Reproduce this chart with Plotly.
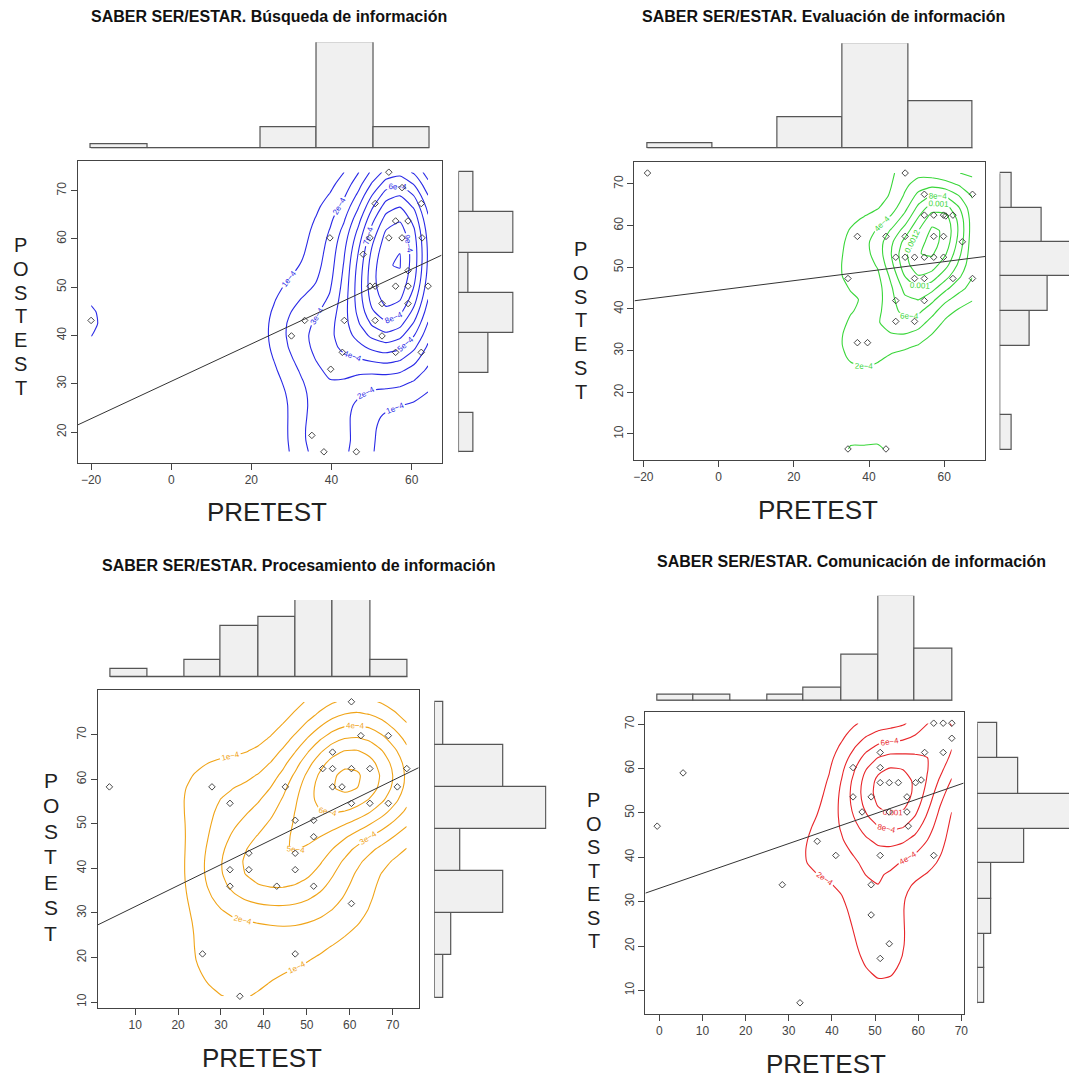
import numpy as np
import plotly.graph_objects as go

# page is 1077x1079; the html body has an 8px margin, so page pixel p maps to figure pixel p-8
W, H = 1077, 1079
OFF = 8
FW, FH = W - OFF, H - OFF

# ---------------- data ----------------
titles = [
    "SABER SER/ESTAR. Búsqueda de información",
    "SABER SER/ESTAR. Evaluación de información",
    "SABER SER/ESTAR. Procesamiento de información",
    "SABER SER/ESTAR. Comunicación de información",
]
contour_colors = ["#2a2ae6", "#3ad63a", "#f0a418", "#e8262a"]
contour_steps = [1e-4, 2e-4, 1e-4, 2e-4]

busq_pre = [-20, 54.3, 57.6, 50.9, 62.4, 56.0, 59.1, 39.6, 49.6, 54.3, 57.6, 62.6, 47.9,
            59.1, 49.6, 50.9, 56.0, 59.1, 64.1, 52.6, 59.1, 33.3, 43.2, 50.9, 30.0, 52.6,
            42.7, 56.0, 62.4, 39.8, 35.1, 38.1, 46.2]
busq_post = [43.1, 73.8, 70.6, 67.3, 67.3, 63.7, 63.7, 60.2, 60.2, 60.2, 60.2, 60.2, 56.8,
             53.4, 50.2, 50.2, 50.2, 50.2, 50.2, 46.6, 46.6, 43.1, 43.1, 43.1, 39.9, 39.9,
             36.5, 36.5, 36.5, 33.0, 19.3, 15.9, 15.9]

eval_pre = [-18.9, 49.6, 67.5, 54.7, 54.7, 57.2, 59.8, 60.4, 62.3, 36.9, 44.5, 49.6, 57.2,
            59.8, 64.8, 47.1, 49.6, 52.1, 54.7, 57.2, 59.8, 34.4, 52.1, 54.7, 62.3, 67.5,
            47.1, 54.7, 47.1, 52.1, 36.9, 39.6, 34.4, 44.5]
eval_post = [72.6, 72.6, 67.5, 67.5, 62.5, 62.5, 62.5, 62.3, 62.5, 57.4, 57.4, 57.4, 57.4,
             57.4, 56.1, 52.4, 52.4, 52.4, 52.4, 52.4, 52.4, 47.3, 47.3, 47.3, 47.3, 47.3,
             42.0, 42.0, 37.0, 37.0, 31.9, 31.9, 6.4, 6.4]

proc_pre = [4.0, 60.4, 62.6, 69.0, 56.0, 53.7, 56.0, 60.4, 64.7, 73.3, 27.9, 45.0, 56.0,
            58.2, 71.1, 32.1, 60.4, 64.7, 69.0, 47.3, 51.6, 51.6, 36.5, 47.3, 32.1, 36.5,
            47.3, 32.1, 43.0, 51.6, 60.4, 25.7, 47.3, 34.4]
proc_post = [58.3, 77.4, 69.8, 69.8, 66.1, 62.4, 62.4, 62.4, 62.4, 62.4, 58.3, 58.3, 58.3,
             58.3, 58.3, 54.6, 54.6, 54.6, 54.6, 50.8, 50.8, 47.1, 43.4, 43.4, 39.7, 39.7,
             39.7, 36.0, 36.0, 36.0, 32.1, 20.8, 20.8, 11.3]

comu_pre = [-0.5, 5.5, 28.5, 32.6, 36.6, 40.9, 44.9, 44.9, 47.0, 49.1, 49.1, 49.1, 51.2,
            51.2, 51.2, 53.3, 55.4, 53.3, 51.2, 51.2, 53.3, 57.4, 57.4, 57.7, 59.4, 60.7,
            61.5, 63.6, 65.8, 63.6, 65.8, 67.8, 67.8]
comu_post = [47.0, 59.0, 33.8, 7.2, 43.6, 40.4, 60.2, 53.6, 50.2, 53.6, 33.8, 27.0, 63.6,
             60.2, 56.8, 56.8, 56.8, 50.2, 40.4, 17.2, 20.5, 53.6, 50.2, 47.0, 56.8, 57.4,
             63.6, 40.4, 63.6, 70.2, 70.2, 70.2, 66.8]

# regression lines (intercept, slope)
fit_intercept = [30.5, 44.5, 26.7, 33.0]
fit_slope = [0.387, 0.114, 0.472, 0.336]

# marginal histograms: bin edges (axis units) and counts
top_edges = [
    [-20, -5.9, 8.1, 22.2, 36.3, 50.4, 64.4],
    [-18.9, -1.7, 15.7, 33.0, 50.4, 67.6],
    [4.2, 12.8, 21.4, 30.0, 38.7, 47.4, 56.1, 64.8, 73.5],
    [-0.4, 8.0, 16.5, 25.0, 33.5, 42.2, 50.7, 59.2, 67.9],
]
top_counts = [
    [1, 0, 0, 5, 25, 5],
    [1, 0, 6, 20, 9],
    [1, 0, 2, 6, 7, 9, 9, 2],
    [1, 1, 0, 1, 2, 7, 16, 8],
]
right_edges = [
    [15.8, 24.0, 32.3, 40.6, 48.8, 57.1, 65.6, 73.9],
    [6.2, 14.6, 22.9, 31.2, 39.5, 47.8, 56.0, 64.3, 72.5],
    [11.0, 20.5, 29.9, 39.5, 48.9, 58.3, 67.8, 77.3],
    [7.1, 15.0, 22.8, 30.7, 38.6, 46.4, 54.3, 62.3, 70.2],
]
right_counts = [
    [3, 0, 6, 11, 2, 11, 3],
    [2, 0, 0, 5, 8, 12, 7, 2],
    [1, 2, 8, 3, 13, 8, 1],
    [1, 1, 2, 2, 7, 14, 6, 3],
]

x_ticks = [[-20, 0, 20, 40, 60], [-20, 0, 20, 40, 60],
           [10, 20, 30, 40, 50, 60, 70], [0, 10, 20, 30, 40, 50, 60, 70]]
y_ticks = [[20, 30, 40, 50, 60, 70], [10, 20, 30, 40, 50, 60, 70],
           [10, 20, 30, 40, 50, 60, 70], [10, 20, 30, 40, 50, 60, 70]]

pre_all = [busq_pre, eval_pre, proc_pre, comu_pre]
post_all = [busq_post, eval_post, proc_post, comu_post]

# ---------------- layout geometry (page pixels) ----------------
box = [(77, 443, 161, 463), (637, 990, 162, 460), (97, 420, 690, 1008), (648, 968, 712, 1014)]
top_geom = [(42.3, 148.3), (43.3, 148.3), (600, 677.3), (595.7, 701)]
right_geom = [(460, 515.7), (1004.3, 1076.6), (435.7, 548.7), (981.7, 1077)]
title_pos = [(269, 17), (827, 17), (300, 565), (855, 561)]
xlab_pos = [(267, 512), (822, 510), (262, 1058), (830, 1064)]
ylab_pos = [(20, 245, 23.8, 20), (583, 249, 23.8, 20), (50, 780, 25.5, 21), (596, 800, 23.5, 20)]

FONT = "Liberation Sans, Arial, sans-serif"


def px_x(a):
    return min(1, max(0, (a - OFF) / FW))


def px_y(b):
    return min(1, max(0, 1 - (b - OFF) / FH))


def dxp(a, b):
    return [px_x(a), px_x(b)]


def dyp(top, bottom):
    return [px_y(bottom), px_y(top)]


def kde2d(x, y, n=25):
    x = np.asarray(x, float)
    y = np.asarray(y, float)

    def bw(v):
        q75, q25 = np.percentile(v, [75, 25])
        h = (q75 - q25) / 1.34
        return 4 * 1.06 * min(np.std(v, ddof=1), h) * len(v) ** (-0.2)

    hx, hy = bw(x) / 4, bw(y) / 4
    gx = np.linspace(x.min(), x.max(), n)
    gy = np.linspace(y.min(), y.max(), n)
    phi = lambda u: np.exp(-0.5 * u * u) / np.sqrt(2 * np.pi)
    ax = phi((gx[:, None] - x[None, :]) / hx)
    ay = phi((gy[:, None] - y[None, :]) / hy)
    z = ax @ ay.T / (len(x) * hx * hy)
    return gx, gy, z.T


fig = go.Figure()
layout = {}
annotations = []
AX = "#444444"
tickfont = dict(family=FONT, size=12, color="#444")

for k in range(4):
    pre = np.asarray(pre_all[k], float)
    post = np.asarray(post_all[k], float)
    xr = [pre.min() - 0.04 * (pre.max() - pre.min()), pre.max() + 0.04 * (pre.max() - pre.min())]
    yr = [post.min() - 0.04 * (post.max() - post.min()), post.max() + 0.04 * (post.max() - post.min())]
    i_s, i_t, i_r = 3 * k + 1, 3 * k + 2, 3 * k + 3
    nm = lambda i: ("" if i == 1 else str(i))
    L, R, T, B = box[k]

    layout["xaxis" + nm(i_s)] = dict(domain=dxp(L, R), anchor="y" + nm(i_s), range=xr,
                                    tickvals=x_ticks[k], showgrid=False, zeroline=False,
                                    showline=True, mirror=True, linecolor=AX, linewidth=1,
                                    ticks="outside", ticklen=6, tickcolor=AX, tickfont=tickfont)
    layout["yaxis" + nm(i_s)] = dict(domain=dyp(T, B), anchor="x" + nm(i_s), range=yr,
                                    tickvals=y_ticks[k], showgrid=False, zeroline=False,
                                    showline=True, mirror=True, linecolor=AX, linewidth=1,
                                    ticks="outside", ticklen=6, tickcolor=AX, tickfont=tickfont,
                                    tickangle=-90)
    tt, tb = top_geom[k]
    layout["xaxis" + nm(i_t)] = dict(domain=dxp(L, R), anchor="y" + nm(i_t), range=xr,
                                    visible=False)
    layout["yaxis" + nm(i_t)] = dict(domain=dyp(tt, tb), anchor="x" + nm(i_t),
                                    range=[0, max(top_counts[k])], visible=False)
    rl, rr = right_geom[k]
    rr_vis = min(rr, W)
    layout["xaxis" + nm(i_r)] = dict(domain=dxp(rl, rr_vis), anchor="y" + nm(i_r),
                                    range=[0, max(right_counts[k]) * (rr_vis - rl) / (rr - rl)],
                                    visible=False)
    layout["yaxis" + nm(i_r)] = dict(domain=dyp(T, B), anchor="x" + nm(i_r), range=yr,
                                    visible=False)

    xs, ys = "x" + nm(i_s), "y" + nm(i_s)

    gx, gy, z = kde2d(pre, post)
    step = contour_steps[k]
    col = contour_colors[k]
    for lo, hi, fmt in [(step, 9.99e-4, "~e"), (1e-3, 0.01, "~r")]:
        if z.max() < lo:
            continue
        fig.add_trace(go.Contour(
            x=gx, y=gy, z=z, xaxis=xs, yaxis=ys,
            autocontour=False,
            contours=dict(start=lo, end=hi, size=step, coloring="lines", showlabels=True,
                          labelfont=dict(size=8, color=col, family=FONT),
                          labelformat=fmt),
            colorscale=[[0, col], [1, col]], showscale=False,
            line=dict(width=1.1, smoothing=0.6), hoverinfo="skip"))

    lx = np.array(xr)
    fig.add_trace(go.Scatter(x=lx, y=fit_intercept[k] + fit_slope[k] * lx, xaxis=xs, yaxis=ys,
                             mode="lines", line=dict(color="#333", width=1), hoverinfo="skip"))
    fig.add_trace(go.Scatter(x=pre, y=post, xaxis=xs, yaxis=ys, mode="markers",
                             marker=dict(symbol="diamond-open", size=5, color="#333",
                                         line=dict(width=0.9, color="#333"))))

    te = np.asarray(top_edges[k])
    fig.add_trace(go.Scatter(x=[te[0], te[-1]], y=[0, 0], xaxis="x" + nm(i_t), yaxis="y" + nm(i_t),
                             mode="lines", line=dict(color="#555", width=1.2), hoverinfo="skip"))
    fig.add_trace(go.Bar(x=(te[:-1] + te[1:]) / 2, y=top_counts[k], width=np.diff(te),
                         xaxis="x" + nm(i_t), yaxis="y" + nm(i_t),
                         marker=dict(color="#f0f0f0", line=dict(color="#555", width=1.2))))
    re_ = np.asarray(right_edges[k])
    fig.add_trace(go.Scatter(x=[0, 0], y=[re_[0], re_[-1]], xaxis="x" + nm(i_r), yaxis="y" + nm(i_r),
                             mode="lines", line=dict(color="#555", width=1.2), hoverinfo="skip"))
    fig.add_trace(go.Bar(y=(re_[:-1] + re_[1:]) / 2, x=right_counts[k], width=np.diff(re_),
                         orientation="h", xaxis="x" + nm(i_r), yaxis="y" + nm(i_r),
                         marker=dict(color="#f0f0f0", line=dict(color="#555", width=1.2))))

    tx, ty = title_pos[k]
    annotations.append(dict(text="<b>" + titles[k] + "</b>", x=px_x(tx), y=px_y(ty),
                            xref="paper", yref="paper", showarrow=False,
                            xanchor="center", yanchor="middle",
                            font=dict(family=FONT, size=16, color="#111")))
    lx_, ly_ = xlab_pos[k]
    annotations.append(dict(text="PRETEST", x=px_x(lx_), y=px_y(ly_), xref="paper", yref="paper",
                            showarrow=False, xanchor="center", yanchor="middle",
                            font=dict(family=FONT, size=26, color="#222")))
    px_, py0, pstep, pfs = ylab_pos[k]
    for j, ch in enumerate("POSTEST"):
        annotations.append(dict(text=ch, x=px_x(px_), y=px_y(py0 + j * pstep),
                                xref="paper", yref="paper", showarrow=False,
                                xanchor="center", yanchor="middle", borderpad=0,
                                font=dict(family=FONT, size=pfs, color="#222")))

fig.update_layout(**layout)
fig.update_layout(width=FW, height=FH, margin=dict(l=0, r=0, t=0, b=0),
                  paper_bgcolor="white", plot_bgcolor="white", showlegend=False,
                  bargap=0, annotations=annotations)
fig.write_html("out.html")
